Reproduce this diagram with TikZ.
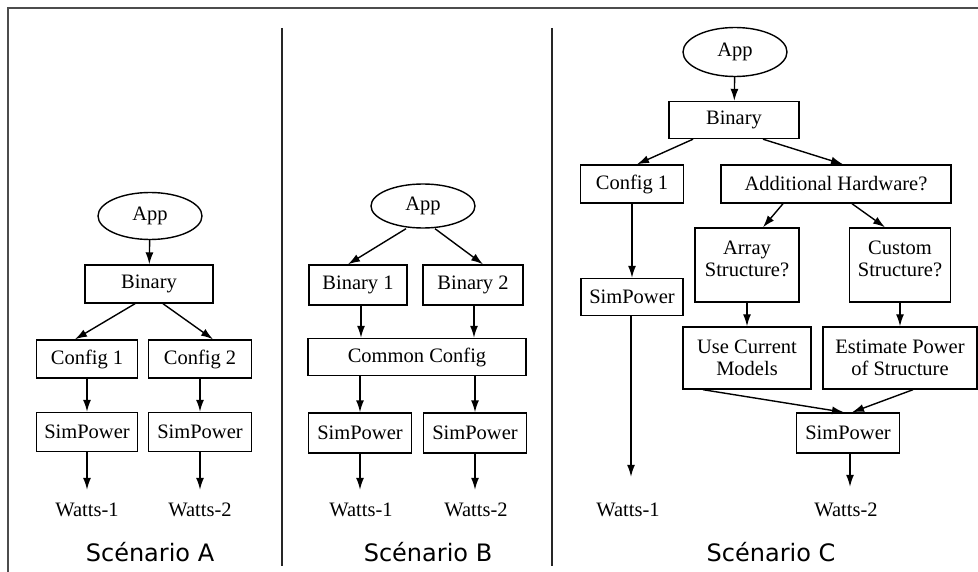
\documentclass[tikz,border=0pt]{standalone}
\usepackage{fontspec}
\setmainfont{Liberation Serif}
\newfontfamily\capfont{DejaVu Sans}
\usetikzlibrary{arrows.meta,shapes.geometric}
\begin{document}
\begin{tikzpicture}[x=1pt,y=-1pt,
  box/.style={draw,line width=1.4pt,rectangle,inner sep=0pt,font=\fontsize{20.5}{22}\selectfont,align=center},
  appnode/.style={draw,line width=1.4pt,ellipse,inner sep=0pt,minimum width=104pt,minimum height=47pt,font=\fontsize{20.5}{22}\selectfont},
  outnode/.style={inner sep=0pt,font=\fontsize{20.5}{22}\selectfont},
  arr/.style={line width=1.4pt,-{Latex[length=12pt,width=8pt]}},
  captext/.style={inner sep=0pt,font=\capfont\fontsize{24}{27}\selectfont},
  frameline/.style={line width=1.6pt,draw=black!70},
  divider/.style={line width=1.1pt,draw=black!85},
]
\useasboundingbox (0,0) rectangle (978,572);
% frame and dividers
\coordinate (f0) at (8,8);
\coordinate (f1) at (978,8);
\coordinate (f2) at (8,572);
\draw[frameline] (f1) -- (f0) -- (f2);
\coordinate (d1t) at (282,28); \coordinate (d1b) at (282,566);
\coordinate (d2t) at (552,28); \coordinate (d2b) at (552,566);
\draw[divider] (d1t) -- (d1b);
\draw[divider] (d2t) -- (d2b);

% ---------------- Scenario A
\node[appnode] (appA) at (150,216) {App};
\node[box,minimum width=128pt,minimum height=38pt] (binA) at (149,284) {Binary};
\node[box,minimum width=101pt,minimum height=38pt] (cfgA1) at (87,359) {Config 1};
\node[box,minimum width=103pt,minimum height=38pt] (cfgA2) at (200,359) {Config 2};
\node[box,minimum width=101pt,minimum height=39pt] (simA1) at (87,432) {SimPower};
\node[box,minimum width=103pt,minimum height=39pt] (simA2) at (200,432) {SimPower};
\node[outnode,minimum height=40pt] (wA1) at (87,510) {Watts-1};
\node[outnode,minimum height=40pt] (wA2) at (200,510) {Watts-2};
\node[captext] (capA) at (150,552) {Scénario A};
\draw[arr] (appA) -- (binA);
\draw[arr] ([xshift=-14pt]binA.south) -- ([xshift=-12pt]cfgA1.north);
\draw[arr] ([xshift=14pt]binA.south) -- ([xshift=13pt]cfgA2.north);
\draw[arr] (cfgA1) -- (simA1);
\draw[arr] (cfgA2) -- (simA2);
\draw[arr] (simA1) -- (wA1);
\draw[arr] (simA2) -- (wA2);

% ---------------- Scenario B
\node[appnode,minimum height=44pt] (appB) at (423,206) {App};
\node[box,minimum width=98pt,minimum height=40pt] (binB1) at (358,285) {Binary 1};
\node[box,minimum width=100pt,minimum height=40pt] (binB2) at (473,285) {Binary 2};
\node[box,minimum width=218pt,minimum height=37pt] (comB) at (417,357) {Common Config};
\node[box,minimum width=103pt,minimum height=40pt] (simB1) at (360,433) {SimPower};
\node[box,minimum width=103pt,minimum height=40pt] (simB2) at (475,433) {SimPower};
\node[outnode,minimum height=40pt] (wB1) at (361,510) {Watts-1};
\node[outnode,minimum height=40pt] (wB2) at (476,510) {Watts-2};
\node[captext] (capB) at (428,552) {Scénario B};
\draw[arr] ([xshift=-17pt]appB.south) -- ([xshift=-10pt]binB1.north);
\draw[arr] ([xshift=12pt]appB.south) -- ([xshift=10pt]binB2.north);
\draw[arr] ([xshift=3pt]binB1.south) -- ([xshift=3pt]binB1.south |- comB.north);
\draw[arr] ([xshift=1pt]binB2.south) -- ([xshift=1pt]binB2.south |- comB.north);
\draw[arr] (simB1.north |- comB.south) -- (simB1.north);
\draw[arr] (simB2.north |- comB.south) -- (simB2.north);
\draw[arr] (simB1.south) -- (simB1.south |- wB1.north);
\draw[arr] (simB2.south) -- (simB2.south |- wB2.north);

% ---------------- Scenario C
\node[appnode,minimum height=49pt] (appC) at (735,52) {App};
\node[box,minimum width=130pt,minimum height=37pt] (binC) at (734,120) {Binary};
\node[box,minimum width=103pt,minimum height=38pt] (cfgC1) at (632,184) {Config 1};
\node[box,minimum width=230pt,minimum height=38pt] (addC) at (836,184) {Additional Hardware?};
\node[box,minimum width=104pt,minimum height=74pt] (arrC) at (747,265) {Array\\Structure?\rule[-12pt]{0pt}{12pt}};
\node[box,minimum width=101pt,minimum height=74pt] (cusC) at (900,265) {Custom\\Structure?\rule[-12pt]{0pt}{12pt}};
\node[box,minimum width=102pt,minimum height=37pt] (simC1) at (632,297) {SimPower};
\node[box,minimum width=128pt,minimum height=62pt] (useC) at (747,358) {Use Current\\Models};
\node[box,minimum width=154pt,minimum height=62pt] (estC) at (900,358) {Estimate Power\\of Structure};
\node[box,minimum width=103pt,minimum height=40pt] (simC2) at (848,433) {SimPower};
\node[outnode,minimum height=66pt] (wC1) at (628,510) {Watts-1};
\node[outnode,minimum height=46pt] (wC2) at (846,510) {Watts-2};
\node[captext] (capC) at (771,552) {Scénario C};
\draw[arr] (appC) -- (binC);
\draw[arr] ([xshift=-41pt]binC.south) -- ([xshift=5pt]cfgC1.north);
\draw[arr] ([xshift=29pt]binC.south) -- ([xshift=7pt]addC.north);
\draw[arr] ([xshift=-53pt]addC.south) -- ([xshift=16pt]arrC.north);
\draw[arr] ([xshift=16pt]addC.south) -- ([xshift=-15pt]cusC.north);
\draw[arr] (cfgC1.south) -- (simC1.north);
\draw[arr] (arrC) -- (useC);
\draw[arr] (cusC) -- (estC);
\draw[arr] ([xshift=-44pt]useC.south) -- ([xshift=-4pt]simC2.north);
\draw[arr] ([xshift=13pt]estC.south) -- ([xshift=4pt]simC2.north);
\draw[arr] ([xshift=-1pt]simC1.south) -- ([xshift=-1pt]simC1.south |- wC1.north);
\draw[arr] ([xshift=2pt]simC2.south) -- ([xshift=2pt]simC2.south |- wC2.north);
\end{tikzpicture}
\end{document}
